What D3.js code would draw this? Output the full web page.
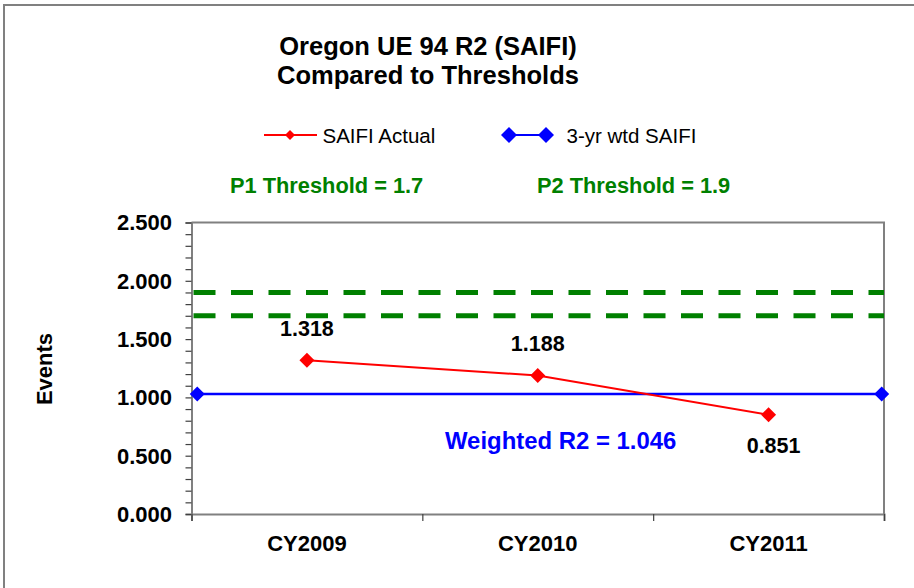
<!DOCTYPE html>
<html>
<head>
<meta charset="utf-8">
<script src="https://cdn.jsdelivr.net/npm/d3@7"></script>
<style>
  html, body { margin: 0; padding: 0; background: #fff; }
  svg { display: block; font-family: Arial, "Liberation Sans", sans-serif; }
</style>
</head>
<body>
<svg id="chart" width="914" height="588"></svg>
<script>
// ---- data ----
const categories = ["CY2009", "CY2010", "CY2011"];
const saifiActual = [1.318, 1.188, 0.851];
const wtdSaifi = [1.03, 1.03];
const wtdSaifiX = [0.025, 2.99];
const thresholds = [1.7, 1.9];
const thresholdLabels = ["P1 Threshold = 1.7", "P2 Threshold = 1.9"];
const yTicks = [0, 0.5, 1.0, 1.5, 2.0, 2.5];
const titleLines = ["Oregon UE 94 R2 (SAIFI)", "Compared to Thresholds"];
const seriesNames = ["SAIFI Actual", "3-yr wtd SAIFI"];
const weightedLabel = "Weighted R2 = 1.046";

// ---- layout ----
const svg = d3.select("#chart");
const plot = { left: 191.5, right: 884, top: 222.5, bottom: 514 };

const x = d3.scaleLinear().domain([0, categories.length]).range([plot.left, plot.right]);
const y = d3.scaleLinear().domain([0, 2.5]).range([plot.bottom, plot.top]);
const catX = i => x(i + 0.5);

// outer frame
svg.append("rect").attr("x", 4).attr("y", 5).attr("width", 1000).attr("height", 1000)
  .attr("fill", "#fff").attr("stroke", "#808080").attr("stroke-width", 2);

// title
svg.append("text").attr("x", 428).attr("y", 55).attr("text-anchor", "middle")
  .attr("font-weight", "bold").attr("font-size", 25.5).attr("fill", "#000")
  .selectAll("tspan").data(titleLines).join("tspan")
  .attr("x", 428).attr("dy", (d, i) => i === 0 ? 0 : 29).text(d => d);

// plot area border (top/right)
svg.append("path")
  .attr("d", `M${plot.left},${plot.top}H${plot.right}V${plot.bottom}`)
  .attr("fill", "none").attr("stroke", "#808080").attr("stroke-width", 2);

// y axis
const yMinor = d3.range(0, 2.5001, 0.1);
const yAxis = d3.axisLeft(y).tickValues(yMinor).tickSize(6).tickFormat("");
const gy = svg.append("g").attr("transform", `translate(${plot.left},0)`).call(yAxis);
gy.select(".domain").attr("stroke", "#808080").attr("stroke-width", 2);
gy.selectAll(".tick line").attr("stroke", "#404040").attr("stroke-width", 1.2);

svg.append("g").selectAll("text").data(yTicks).join("text")
  .attr("x", 172).attr("y", d => y(d) + 7.8).attr("text-anchor", "end")
  .attr("font-weight", "bold").attr("font-size", 22).attr("fill", "#000")
  .text(d => d3.format(".3f")(d));

// x axis
const xAxis = d3.axisBottom(x).tickValues(d3.range(0, categories.length + 1)).tickSize(7).tickFormat("");
const gx = svg.append("g").attr("transform", `translate(0,${plot.bottom})`).call(xAxis);
gx.select(".domain").attr("stroke", "#808080").attr("stroke-width", 2);
gx.selectAll(".tick line").attr("stroke", "#404040").attr("stroke-width", 1.2);

svg.append("g").selectAll("text").data(categories).join("text")
  .attr("x", (d, i) => catX(i)).attr("y", 551).attr("text-anchor", "middle")
  .attr("font-weight", "bold").attr("font-size", 22).attr("fill", "#000")
  .text(d => d);

// y axis title
svg.append("text").attr("transform", "translate(52,369) rotate(-90)")
  .attr("text-anchor", "middle").attr("font-weight", "bold").attr("font-size", 22)
  .text("Events");

// threshold lines
svg.append("g").selectAll("line").data(thresholds).join("line")
  .attr("x1", plot.left + 2).attr("x2", plot.right)
  .attr("y1", d => y(d)).attr("y2", d => y(d))
  .attr("stroke", "#008000").attr("stroke-width", 5)
  .attr("stroke-dasharray", "22,15.5");

// threshold labels
svg.append("g").selectAll("text").data(thresholdLabels).join("text")
  .attr("x", (d, i) => i === 0 ? 230 : 537).attr("y", 193)
  .attr("font-weight", "bold").attr("font-size", 21.8).attr("fill", "#008000")
  .text(d => d);

const diamond = r => `M0,${-r}L${r},0L0,${r}L${-r},0Z`;

// blue line
const blueData = wtdSaifi.map((v, i) => ({ x: wtdSaifiX[i], v }));
svg.append("path").datum(blueData)
  .attr("d", d3.line().x(d => x(d.x)).y(d => y(d.v)))
  .attr("fill", "none").attr("stroke", "#0000FF").attr("stroke-width", 2.5);
svg.append("g").selectAll("path").data(blueData).join("path")
  .attr("transform", d => `translate(${x(d.x)},${y(d.v)})`)
  .attr("d", diamond(7.5)).attr("fill", "#0000FF");

// red line
const redData = saifiActual.map((v, i) => ({ i, v }));
svg.append("path").datum(redData)
  .attr("d", d3.line().x(d => catX(d.i)).y(d => y(d.v)))
  .attr("fill", "none").attr("stroke", "#FF0000").attr("stroke-width", 2);
svg.append("g").selectAll("path").data(redData).join("path")
  .attr("transform", d => `translate(${catX(d.i)},${y(d.v)})`)
  .attr("d", diamond(7.5)).attr("fill", "#FF0000");

// data labels
svg.append("g").selectAll("text").data(redData).join("text")
  .attr("x", d => catX(d.i) + (d.i === 2 ? 5 : 0))
  .attr("y", d => d.i === 2 ? y(d.v) + 38 : y(d.v) - 24)
  .attr("text-anchor", "middle").attr("font-weight", "bold").attr("font-size", 21.5)
  .attr("fill", "#000").text(d => d3.format(".3f")(d.v));

// weighted label
svg.append("text").attr("x", 445).attr("y", 449)
  .attr("font-weight", "bold").attr("font-size", 23.9).attr("fill", "#0000FF")
  .text(weightedLabel);

// legend
const lg = svg.append("g");
lg.append("line").attr("x1", 264).attr("x2", 317).attr("y1", 135).attr("y2", 135)
  .attr("stroke", "#FF0000").attr("stroke-width", 2);
lg.append("path").attr("transform", "translate(290,135)").attr("d", diamond(5)).attr("fill", "#FF0000");
lg.append("text").attr("x", 322.5).attr("y", 142.5).attr("font-size", 20.5).text(seriesNames[0]);
lg.append("line").attr("x1", 509).attr("x2", 546).attr("y1", 135).attr("y2", 135)
  .attr("stroke", "#0000FF").attr("stroke-width", 2);
lg.selectAll("path.b").data([509, 546]).join("path").attr("class", "b")
  .attr("transform", d => `translate(${d},135)`).attr("d", diamond(8)).attr("fill", "#0000FF");
lg.append("text").attr("x", 566.5).attr("y", 142.5).attr("font-size", 20.5).text(seriesNames[1]);
</script>
</body>
</html>
